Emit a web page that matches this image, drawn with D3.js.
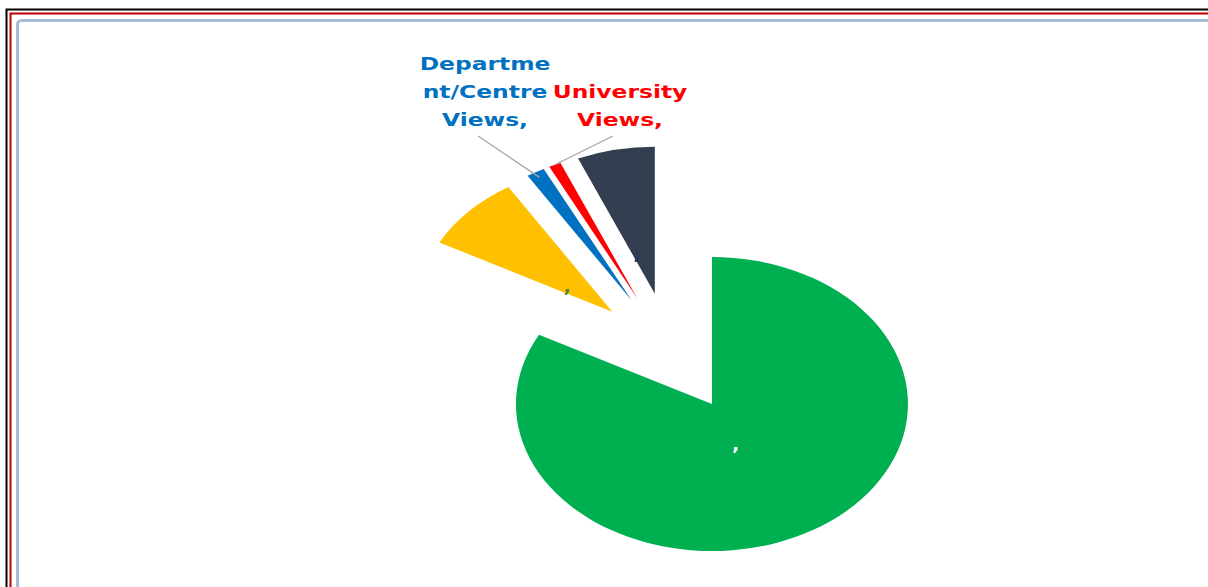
<!DOCTYPE html>
<html>
<head>
<meta charset="utf-8">
<script src="https://cdn.jsdelivr.net/npm/d3@7"></script>
<style>
  html, body { margin: 0; padding: 0; background: #ffffff; }
  svg { display: block; }
</style>
</head>
<body>
<svg id="chart" width="1208" height="587"></svg>
<script>
// ---- data (clockwise from 12 o'clock) ----
const categories = ["", "", "Department/Centre Views", "University Views", ""];
const values = [82.8, 8.3, 1.5, 1.0, 6.4];
const colors = ["#00B050", "#FFC000", "#0070C0", "#FF0000", "#333F50"];
const labelColors = ["#ffffff", "#548235", "#0070C0", "#FF0000", "#1F3864"];
const labelLines = [[","], [","], ["Departme", "nt/Centre", "Views,"], ["University", "Views,"], [","]];

const svg = d3.select("#chart");
const W = 1208, H = 587;

// frame lines
svg.append("rect").attr("x", 6.5).attr("y", 9.5).attr("width", W + 20).attr("height", H + 20)
  .attr("fill", "none").attr("stroke", "#000").attr("stroke-width", 2);
svg.append("rect").attr("x", 10.5).attr("y", 13.5).attr("width", W + 20).attr("height", H + 20)
  .attr("fill", "none").attr("stroke", "#C00000").attr("stroke-width", 2);
svg.append("rect").attr("x", 17.5).attr("y", 20.5).attr("width", W + 20).attr("height", H + 20)
  .attr("rx", 4).attr("fill", "none").attr("stroke", "#A7BCD6").attr("stroke-width", 3);

// pie geometry
const R = 196, explode = 80, sy = 0.75;
const cx = 670.8, cy = 352.6;
const pie = d3.pie().sort(null).value(d => d)(values);
const arc = d3.arc().innerRadius(0).outerRadius(R);

const g = svg.append("g").attr("transform", `translate(${cx},${cy}) scale(1,${sy})`);
g.selectAll("path").data(pie).join("path")
  .attr("d", arc)
  .attr("fill", (d, i) => colors[i])
  .attr("transform", d => {
    const m = (d.startAngle + d.endAngle) / 2;
    return `translate(${Math.sin(m) * explode},${-Math.cos(m) * explode})`;
  });

// slice apex in screen coords
function apex(d) {
  const m = (d.startAngle + d.endAngle) / 2;
  return [cx + Math.sin(m) * explode, cy - Math.cos(m) * explode * sy];
}
// point at angle (deg) and radius r from a slice's apex
function fromApex(d, deg, r) {
  const [ax, ay] = apex(d);
  const a = deg * Math.PI / 180;
  return [ax + Math.sin(a) * r, ay - Math.cos(a) * r * sy];
}

// inside labels (",")
const inside = [
  { i: 0, deg: 159, r: 66 },
  { i: 1, deg: 300, r: 52 },
  { i: 4, deg: 339, r: 50 }
];
inside.forEach(o => {
  const [x, y] = fromApex(pie[o.i], o.deg, o.r);
  svg.append("text").attr("x", x).attr("y", y)
    .attr("text-anchor", "middle")
    .attr("font-family", "DejaVu Sans").attr("font-weight", "bold").attr("font-size", 18)
    .attr("fill", labelColors[o.i]).text(labelLines[o.i][0]);
});

// outside labels with leader lines
const outside = [
  { i: 2, x: 485, y: 70, lineFrom: [478, 136], lineR: 188 },
  { i: 3, x: 620, y: 98, lineFrom: [613, 136], lineR: 196 }
];
outside.forEach(o => {
  const d = pie[o.i];
  const m = (d.startAngle + d.endAngle) / 2 * 180 / Math.PI;
  const [lx, ly] = fromApex(d, m, o.lineR);
  svg.append("line").attr("x1", o.lineFrom[0]).attr("y1", o.lineFrom[1])
    .attr("x2", lx).attr("y2", ly).attr("stroke", "#A6A6A6").attr("stroke-width", 1.3);
  labelLines[o.i].forEach((t, j) => {
    svg.append("text")
      .attr("transform", `translate(${o.x},${o.y + j * 28}) scale(1.3,1)`)
      .attr("text-anchor", "middle")
      .attr("font-family", "DejaVu Sans").attr("font-weight", "bold").attr("font-size", 18)
      .attr("fill", labelColors[o.i]).text(t);
  });
});
</script>
</body>
</html>
